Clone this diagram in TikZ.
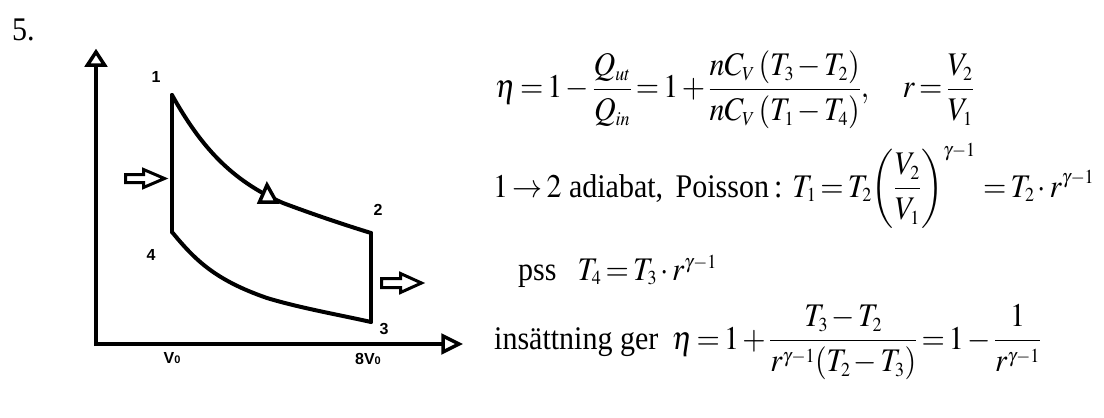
\documentclass[tikz,border=0pt]{standalone}
\usepackage{mathptmx}
\usepackage{amsmath}
\usepackage[no-math]{fontspec}
\setmainfont{Liberation Serif}
\newfontfamily\lsans{Liberation Sans}
\usepackage{graphicx}
\DeclareMathSizes{30}{30}{18}{14}
\newcommand{\tightmath}{\thickmuskip=2.5mu\relax\medmuskip=2mu\relax}
\tikzset{
  curve/.style={line width=4pt, line join=round, line cap=round},
  axis/.style={line width=4pt},
  openhead/.style={line width=3.5pt, line join=miter, fill=white},
  blockarrow/.style={line width=3pt, line join=miter, fill=white},
  lbl/.style={inner sep=0pt, font=\lsans\bfseries\fontsize{16}{16}\selectfont},
  eqn/.style={anchor=base west, inner sep=0pt, font=\fontsize{30}{36}\selectfont}
}
\newcommand{\sub}[1]{{\fontsize{11}{11}\selectfont #1}}
\begin{document}
\begin{tikzpicture}[x=1pt,y=-1pt]
\useasboundingbox (0,0) rectangle (1104,418);
% problem number
\node[eqn] (num) at (12,40) {\scalebox{1}[1.1]{5.}};
% axes
\coordinate (O) at (96,344);
\coordinate (ytop) at (96,65);
\coordinate (xend) at (443,344);
\draw[axis] (96,346) -- (ytop);
\draw[axis] (O) -- (xend);
\draw[openhead] (96,52) -- (104.5,65) -- (87.5,65) -- cycle;
\draw[openhead] (459,344) -- (443,352) -- (443,336) -- cycle;
% cycle points
\coordinate (p1) at (172,95);
\coordinate (p2) at (371,233);
\coordinate (p3) at (371,322);
\coordinate (p4) at (172,232);
\draw[curve] (p1) .. controls (200,145) and (230,180) .. (283,203) .. controls (315,215) and (345,225) .. (p2);
\draw[curve] (p4) .. controls (195,260) and (215,280) .. (267,298) .. controls (300,308) and (340,315) .. (p3);
\draw[curve] (p1) -- (p4);
\draw[curve] (p2) -- (p3);
% triangle on adiabat
\draw[openhead] (267,185) -- (276.5,202) -- (259.5,202) -- cycle;
% block arrows
\draw[blockarrow] (125.5,174.5) -- (143.5,174.5) -- (143.5,169.5) -- (164.5,178.5) -- (143.5,187.5) -- (143.5,182.5) -- (125.5,182.5) -- cycle;
\draw[blockarrow] (381.5,278.5) -- (400.5,278.5) -- (400.5,273.5) -- (421.5,283) -- (400.5,292.5) -- (400.5,287.5) -- (381.5,287.5) -- cycle;
% labels
\node[lbl] (l1) at (156,77) {1};
\node[lbl] (l2) at (378,210) {2};
\node[lbl] (l4) at (151,255) {4};
\node[lbl] (l3) at (384,329) {3};
\node[lbl] (v0) at (172,358) {V\sub{0}};
\node[lbl] (v8) at (368,359) {8V\sub{0}};
% equations
\node[eqn] (e1) at (495,97.7) {\scalebox{1}[1.1]{$\tightmath\displaystyle \eta = 1 - \frac{Q_{ut}}{Q_{in}} = 1 + \frac{nC_V\,(T_3-T_2)}{nC_V\,(T_1-T_4)},\quad r=\frac{V_2}{V_1}$}};
\node[eqn] (e2) at (493,197) {\scalebox{1}[1.1]{$\tightmath\displaystyle 1\rightarrow 2$ adiabat,\, Poisson\,: $\tightmath\displaystyle T_1 = T_2\biggl(\frac{V_2}{V_1}\biggr)^{\gamma-1}\,= T_2\cdot r^{\gamma-1}$}};
\node[eqn] (e3) at (518,280) {\scalebox{1}[1.1]{pss\hspace{0.7em}$\tightmath T_4 = T_3\cdot r^{\gamma-1}$}};
\node[eqn] (e4) at (494,349) {\scalebox{1}[1.1]{insättning ger\hspace{0.45em}$\tightmath\displaystyle \eta = 1 + \frac{T_3-T_2}{r^{\gamma-1}(T_2-T_3)} = 1 - \frac{1}{r^{\gamma-1}}$}};
\end{tikzpicture}
\end{document}
